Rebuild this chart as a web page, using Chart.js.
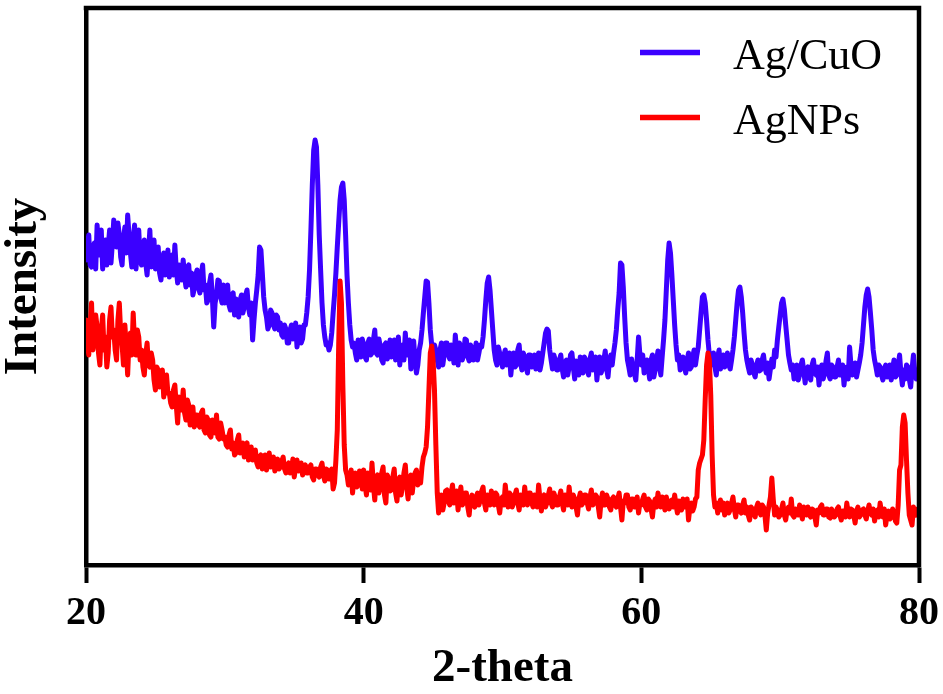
<!DOCTYPE html>
<html>
<head>
<meta charset="utf-8">
<script src="https://cdn.jsdelivr.net/npm/chart.js@4/dist/chart.umd.min.js"></script>
<style>
  html, body { margin: 0; padding: 0; background: #fff; }
  #wrap { width: 943px; height: 694px; }
</style>
</head>
<body>
<div id="wrap"><canvas id="c" width="943" height="694"></canvas></div>
<script>
// 2-theta sampling grid: 20° to 80°, 0.1° step
const thetaStart = 20;
const thetaStep = 0.1;
const xTicks = [20, 40, 60, 80];
const seriesNames = ['Ag/CuO', 'AgNPs'];

// Ag/CuO intensity (a.u.), one row per 2°
const agCuO = [
  305,322, 330,300, 298,318, 322,296, 340,315, 310,335, 296,318, 325,300, 318,335, 302,322,
  345,325, 318,342, 330,308, 300,326, 338,312, 350,330, 312,298, 326,340, 296,318, 335,305,
  300,318, 325,302, 290,312, 335,298, 310,325, 296,315, 318,292, 285,305, 312,290, 300,315,
  288,305, 310,290, 320,296, 282,300, 298,285, 305,288, 278,298, 300,280, 292,270, 276,290,
  295,278, 272,290, 300,275, 280,262, 265,282, 290,268, 238,262, 270,285, 284,268, 262,280,
  262,276, 280,260, 255,270, 272,250, 266,256, 248,265, 270,252, 258,270, 275,258, 250,262,
  225,245, 262,275, 290,318, 315,292, 268,255, 248,236, 240,255, 252,240, 236,250, 248,235,
  242,230, 228,240, 236,222, 222,235, 240,226, 230,242, 218,230, 238,222, 226,240, 240,252,
  268,295, 335,380, 415,425, 418,380, 330,295, 262,240, 228,220, 222,215, 220,232, 252,270,
  292,318, 342,365, 378,382, 365,330, 290,262, 240,225, 218,222, 212,205, 225,218, 208,226,
  220,208, 205,222, 226,210, 212,225, 235,212, 210,226, 218,205, 202,220, 222,206, 214,225,
  208,220, 225,205, 215,228, 200,215, 220,205, 232,210, 212,225, 196,215, 224,205, 192,200,
  215,222, 235,252, 268,284, 283,262, 235,220, 208,220, 215,205, 198,215, 222,200, 210,222,
  222,210, 206,220, 215,202, 230,214, 200,222, 218,205, 210,226, 225,208, 204,220, 216,205,
  212,222, 205,212, 220,218, 228,245, 265,282, 288,275, 255,235, 215,205, 200,218, 212,205,
  198,210, 215,200, 205,212, 190,205, 212,198, 200,215, 220,202, 195,212, 208,198, 192,210,
  210,198, 200,210, 196,205, 212,195, 202,212, 222,232, 236,234, 215,205, 196,210, 205,195,
  195,205, 210,196, 188,202, 205,190, 198,210, 212,198, 186,204, 200,190, 208,196, 192,208,
  205,196, 190,206, 212,195, 198,208, 185,200, 208,192, 196,205, 214,196, 188,204, 210,200,
  212,222, 235,255, 272,302, 300,278, 248,222, 205,198, 190,206, 196,192, 185,205, 228,210,
  200,210, 192,200, 205,196, 186,205, 210,188, 195,205, 214,200, 190,208, 225,245, 275,305,
  322,312, 290,265, 240,220, 205,210, 195,205, 208,198, 192,205, 212,196, 198,208, 215,200,
  210,218, 235,252, 268,270, 262,245, 225,210, 200,205, 212,198, 190,208, 215,196, 205,210,
  198,205, 212,200, 196,205, 215,228, 245,262, 275,278, 268,252, 232,215, 205,198, 192,205,
  200,192, 188,200, 205,194, 195,205, 210,198, 192,202, 186,196, 206,198, 215,208, 225,238,
  250,262, 266,256, 240,225, 210,202, 195,200, 186,196, 200,185, 190,200, 205,194, 182,196,
  198,188, 185,200, 205,192, 190,198, 180,195, 200,186, 192,204, 212,190, 186,200, 198,188,
  188,198, 205,190, 192,200, 180,195, 198,186, 218,200, 190,196, 202,188, 195,202, 210,222,
  240,258, 270,276, 268,252, 235,215, 205,198, 190,200, 198,190, 185,196, 200,188, 192,200,
  185,196, 205,188, 190,200, 210,192, 180,195, 186,200, 198,186, 178,196, 210,192, 186,195,
  190
];

// AgNPs intensity (a.u.), one row per 2°
const agNPs = [
  245,222, 210,240, 262,215, 225,250, 238,212, 200,235, 250,215, 228,198, 212,245, 258,228,
  235,215, 205,245, 262,232, 220,200, 240,218, 190,225, 232,210, 252,222, 210,235, 228,205,
  215,198, 190,210, 222,200, 198,212, 205,185, 175,198, 195,178, 182,195, 168,185, 190,172,
  172,162, 158,175, 180,160, 142,168, 165,155, 175,152, 145,165, 160,140, 148,158, 138,150,
  150,140, 138,152, 155,135, 132,148, 145,130, 128,145, 140,132, 150,128, 126,142, 135,126,
  128,120, 118,130, 135,116, 122,110, 112,125, 130,112, 118,122, 108,120, 122,105, 112,118,
  105,112, 115,102,  98,108, 110, 96, 102,110,  95,104, 112, 98, 100,108,  94,102, 106, 96,
   98,104, 108, 96,  92,100, 102, 92,  95,106,  88, 98, 105, 94,  96,102,  90, 98, 100, 92,
   92, 98, 100, 88,  85, 96,  96, 90,  88, 98, 102, 90,  84, 96,  95, 86,  88, 96,  76, 82,
  105,135, 220,284, 262,180, 120, 95,  90, 80,  84, 95,  72, 88,  92, 78,  80, 94,  88, 76,
   95, 80,  70, 92,  88, 75, 102, 80,  65, 88,  90, 72,  78, 92,  98, 70,  62, 90,  86, 74,
   75, 88,  96, 72,  64, 84,  88, 70,  80, 92, 100, 78,  66, 86,  90, 72,  85, 92,  95, 80,
   90, 82,  98,108, 112,118, 138,175, 212,219, 205,175, 120, 72,  52, 66,  70, 55,  62, 74,
   75, 64,  60, 72,  80, 62,  66, 74,  55, 68,  78, 60,  62, 72,  72, 58,  50, 66,  70, 60,
   58, 68,  72, 60,  65, 74,  78, 62,  55, 70,  68, 60,  74, 64,  60, 72,  70, 60,  52, 66,
   68, 60,  80, 66,  58, 72,  70, 58,  62, 70,  75, 62,  55, 70,  68, 60,  78, 64,  60, 72,
   72, 62,  58, 70,  66, 58,  80, 66,  54, 68,  70, 58,  62, 70,  76, 62,  58, 72,  68, 60,
   60, 68,  74, 62,  55, 70,  68, 60,  78, 64,  58, 70,  66, 58,  50, 66,  72, 60,  62, 70,
   70, 62,  56, 68,  75, 60,  62, 70,  68, 58,  48, 64,  72, 60,  60, 70,  66, 58,  55, 66,
   68, 60,  58, 66,  72, 58,  45, 64,  62, 70,  70, 58,  55, 66,  66, 58,  60, 68,  52, 62,
   60, 66,  70, 58,  55, 66,  64, 56,  48, 62,  66, 58,  72, 62,  58, 68,  62, 55,  68, 60,
   56, 64,  65, 58,  70, 60,  52, 64,  60, 55,  66, 58,  58, 66,  45, 58,  62, 54,  58, 66,
   68, 95, 102,106, 110,125, 165,200, 212,205, 170,110,  70, 58,  62, 52,  60, 65,  55, 62,
   50, 58,  62, 52,  55, 62,  68, 56,  48, 60,  60, 54,  52, 60,  65, 52,  58, 50,  45, 58,
   56, 52,  48, 58,  62, 54,  50, 60,  58, 50,  35, 52,  60, 68,  87, 66,  50, 58,  55, 48,
   50, 56,  62, 50,  45, 55,  58, 52,  66, 50,  48, 56,  55, 50,  60, 52,  46, 58,  54, 50,
   58, 50,  48, 56,  55, 48,  40, 55,  52, 58,  60, 50,  50, 56,  56, 48,  47, 56,  53, 48,
   50, 56,  58, 50,  45, 54,  54, 48,  62, 52,  48, 56,  55, 50,  42, 54,  58, 48,  50, 55,
   56, 50,  46, 54,  60, 52,  50, 56,  44, 52,  55, 48,  62, 52,  48, 56,  40, 50,  54, 46,
   48, 56,  52, 44,  42, 60,  95,100, 138,150, 142,105,  72, 50,  45, 40,  58, 52,  50, 56,
   55
];

const toPoints = arr => arr.map((v, i) => ({ x: +(thetaStart + i * thetaStep).toFixed(1), y: v }));

const SERIF = "'Liberation Serif', 'Times New Roman', serif";
const BLUE = '#3b00ff';
const RED = '#ff0000';

const frameLegend = {
  id: 'frameLegend',
  afterDraw(chart) {
    const { ctx, chartArea: a } = chart;
    ctx.save();
    ctx.strokeStyle = '#000';
    ctx.lineWidth = 4.5;
    ctx.lineCap = 'square';
    ctx.beginPath();
    ctx.moveTo(a.left, a.top);
    ctx.lineTo(a.right, a.top);
    ctx.lineTo(a.right, a.bottom);
    ctx.stroke();
    // legend
    const rows = [52.5, 117.5];
    seriesNames.forEach((name, k) => {
      const ds = chart.data.datasets.find(d => d.label === name);
      const y = rows[k];
      ctx.strokeStyle = ds.borderColor;
      ctx.lineWidth = 5.5;
      ctx.lineCap = 'butt';
      ctx.beginPath();
      ctx.moveTo(640, y);
      ctx.lineTo(700, y);
      ctx.stroke();
      ctx.fillStyle = '#000';
      ctx.font = '44px ' + SERIF;
      ctx.textBaseline = 'alphabetic';
      ctx.textAlign = 'left';
      ctx.fillText(ds.label, 733, y + 16);
    });
    ctx.restore();
  }
};

new Chart(document.getElementById('c'), {
  type: 'line',
  data: {
    datasets: [
      { label: seriesNames[0], data: toPoints(agCuO), borderColor: BLUE, backgroundColor: BLUE,
        borderWidth: 5, pointRadius: 0, tension: 0, order: 1,
        borderJoinStyle: 'round', borderCapStyle: 'round' },
      { label: seriesNames[1], data: toPoints(agNPs), borderColor: RED, backgroundColor: RED,
        borderWidth: 5, pointRadius: 0, tension: 0, order: 0,
        borderJoinStyle: 'round', borderCapStyle: 'round' }
    ]
  },
  options: {
    responsive: false,
    animation: false,
    devicePixelRatio: 1,
    layout: { padding: { left: 0, right: 24, top: 8, bottom: 0 } },
    plugins: { legend: { display: false }, tooltip: { enabled: false } },
    scales: {
      x: {
        type: 'linear',
        min: 20, max: 80,
        afterBuildTicks: s => { s.ticks = xTicks.map(v => ({ value: v })); },
        afterFit: s => { s.height = 129; },
        border: { display: true, color: '#000', width: 4.5 },
        grid: { display: true, drawOnChartArea: false, drawTicks: true, tickLength: 18,
                tickWidth: 4, tickColor: '#000', color: '#000' },
        ticks: { color: '#000', padding: 3, maxRotation: 0, autoSkip: false,
                 font: { family: SERIF, size: 40, weight: 'bold', lineHeight: 1.375 } },
        title: { display: true, text: '2-theta', color: '#000',
                 padding: { top: 0, bottom: 1.5 },
                 font: { family: SERIF, size: 47, weight: 'bold', lineHeight: 1 } }
      },
      y: {
        min: 0, max: 557,
        afterFit: s => { s.width = 86; },
        border: { display: true, color: '#000', width: 4.5 },
        grid: { display: false },
        ticks: { display: false },
        title: { display: true, text: 'Intensity', color: '#000', padding: 0,
                 font: { family: SERIF, size: 47, weight: 'bold', lineHeight: 1 } }
      }
    }
  },
  plugins: [frameLegend]
});
</script>
</body>
</html>
